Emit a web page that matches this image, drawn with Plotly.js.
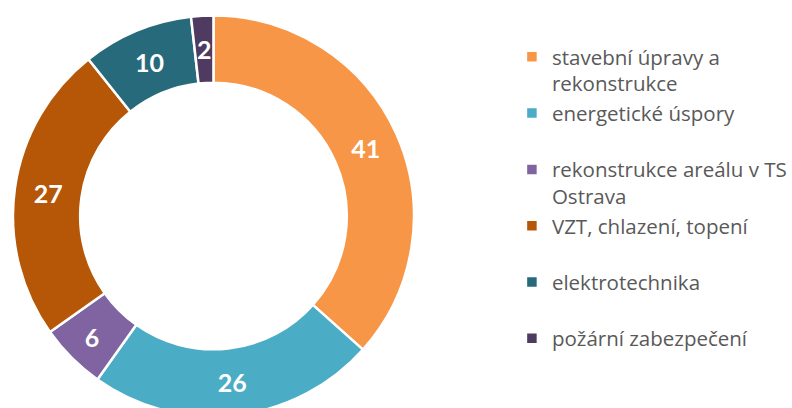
<!DOCTYPE html>
<html>
<head>
<meta charset="utf-8">
<script src="https://cdn.plot.ly/plotly-3.0.1.min.js"></script>
<style>
html,body{margin:0;padding:0;overflow:hidden;background:#fff;width:792px;height:408px;}
#chart{width:792px;height:420px;}
</style>
</head>
<body>
<div id="chart"></div>
<script>
const categories = [
  "stavební úpravy a<br>rekonstrukce",
  "energetické úspory<br> ",
  "rekonstrukce areálu v TS<br>Ostrava",
  "VZT, chlazení, topení<br> ",
  "elektrotechnika<br> ",
  "požární zabezpečení<br> "
];
const values = [41, 26, 6, 27, 10, 2];
const colors = ["#F79646", "#4BACC6", "#8064A2", "#B65708", "#276A7C", "#4F3B62"];

const W = 792, H = 420;
const cx = 214, cy = 216, R = 201, HOLE = 0.665;
const labelFont = {family: "Lato, 'Open Sans', sans-serif", size: 25, color: "#ffffff", weight: "bold"};

// the smallest slice label is drawn at full size (as in the reference) at its slice's mid-angle
const total = values.reduce((a, b) => a + b, 0);
const smallIdx = values.indexOf(Math.min(...values));
const textpos = values.map((v, i) => i === smallIdx ? "none" : "inside");
let cum = 0;
for (let i = 0; i < smallIdx; i++) cum += values[i];
const midAng = (cum + values[smallIdx] / 2) / total * 2 * Math.PI; // clockwise from top
const rMid = R * (1 + HOLE) / 2;
const ax = cx + rMid * Math.sin(midAng);
const ay = cy - rMid * Math.cos(midAng);

const data = [{
  type: "pie",
  labels: categories,
  values: values,
  sort: false,
  direction: "clockwise",
  rotation: 0,
  hole: HOLE,
  marker: {colors: colors, line: {color: "#ffffff", width: 2.5}},
  textinfo: "value",
  textposition: textpos,
  insidetextorientation: "horizontal",
  insidetextfont: labelFont,
  hoverinfo: "label+value",
  domain: {x: [(cx - R) / W, (cx + R) / W], y: [(H - cy - R) / H, Math.min(1, (H - cy + R) / H)]}
}];

const layout = {
  width: W,
  height: H,
  margin: {l: 0, r: 0, t: 0, b: 0},
  paper_bgcolor: "#ffffff",
  showlegend: true,
  legend: {
    x: 0.648, y: 0.912, xanchor: "left", yanchor: "top",
    valign: "top",
    font: {family: "'Open Sans', sans-serif", size: 20.5, color: "#595959"},
    itemwidth: 30,
    tracegroupgap: 0
  },
  annotations: [{
    xref: "paper", yref: "paper",
    x: ax / W, y: 1 - ay / H,
    xanchor: "center", yanchor: "middle",
    text: String(values[smallIdx]),
    showarrow: false,
    font: labelFont
  }]
};

Plotly.newPlot("chart", data, layout, {displayModeBar: false, staticPlot: true});
</script>
</body>
</html>
